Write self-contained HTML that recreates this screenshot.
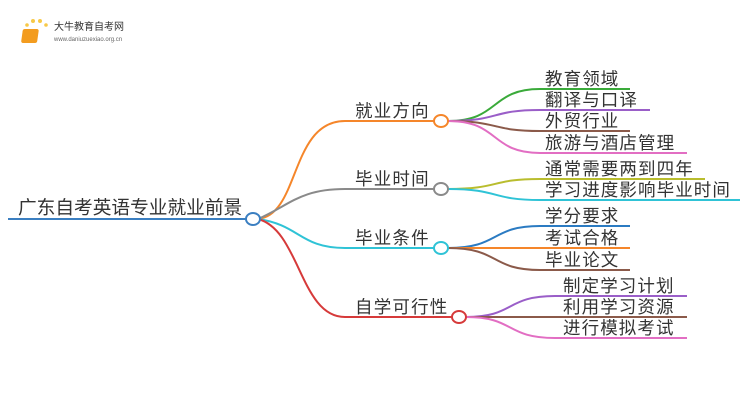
<!DOCTYPE html>
<html><head><meta charset="utf-8"><style>
html,body{margin:0;padding:0;background:#fff;width:750px;height:410px;overflow:hidden}
svg text{font-family:"Liberation Sans","Noto Sans CJK SC",sans-serif;fill:#333}
</style></head><body>
<svg width="750" height="410" viewBox="0 0 750 410" xmlns="http://www.w3.org/2000/svg">
<g fill="none" stroke-width="2">
<line x1="8" y1="219" x2="246" y2="219" stroke="#3b7fc1"/>
<path d="M258,219 C300,215 290,121 345,121 L434,121" stroke="#f5862a"/>
<path d="M258,219 C290,205 300,189 345,189 L434,189" stroke="#8a8a8a"/>
<path d="M258,219 C300,225 300,248 345,248 L434,248" stroke="#2fc3d6"/>
<path d="M258,219 C300,230 300,317 345,317 L452,317" stroke="#d63a3a"/>
<path d="M448,121 C500,121 490,89 540,89 L630,89" stroke="#3aaa3a"/>
<path d="M448,121 C500,121 490,110 540,110 L650,110" stroke="#9a5ec8"/>
<path d="M448,121 C500,121 490,131 540,131 L630,131" stroke="#8b5a4a"/>
<path d="M448,121 C500,121 490,153 540,153 L687,153" stroke="#e26ec3"/>
<path d="M448,189 C500,189 490,179 540,179 L705,179" stroke="#b9bd2e"/>
<path d="M448,189 C500,189 490,200 540,200 L740,200" stroke="#2fc3d6"/>
<path d="M448,248 C500,248 490,226 540,226 L630,226" stroke="#2b7bc2"/>
<path d="M448,248 C500,248 490,248 540,248 L630,248" stroke="#f5862a"/>
<path d="M448,248 C500,248 490,270 540,270 L630,270" stroke="#8b5a4a"/>
<path d="M466,317 C515,317 505,296 555,296 L687,296" stroke="#9a5ec8"/>
<path d="M466,317 C515,317 505,317 555,317 L687,317" stroke="#8b5a4a"/>
<path d="M466,317 C515,317 505,338 555,338 L687,338" stroke="#e26ec3"/>
</g>
<g fill="#fff" stroke-width="2">
<ellipse cx="253" cy="219" rx="7" ry="6" stroke="#3b7fc1"/>
<ellipse cx="441" cy="121" rx="7" ry="6" stroke="#f5862a"/>
<ellipse cx="441" cy="189" rx="7" ry="6" stroke="#8a8a8a"/>
<ellipse cx="441" cy="248" rx="7" ry="6" stroke="#2fc3d6"/>
<ellipse cx="459" cy="317" rx="7" ry="6" stroke="#d63a3a"/>
</g>
<text x="18" y="214" font-size="18.7">广东自考英语专业就业前景</text>
<g font-size="17.5" letter-spacing="1.2">
<text x="355" y="117">就业方向</text>
<text x="355" y="185">毕业时间</text>
<text x="355" y="244">毕业条件</text>
<text x="355" y="313">自学可行性</text>
</g>
<g font-size="17.5" letter-spacing="1.1">
<text x="545" y="85">教育领域</text>
<text x="545" y="106">翻译与口译</text>
<text x="545" y="127">外贸行业</text>
<text x="545" y="149">旅游与酒店管理</text>
<text x="545" y="175">通常需要两到四年</text>
<text x="545" y="196">学习进度影响毕业时间</text>
<text x="545" y="222">学分要求</text>
<text x="545" y="244">考试合格</text>
<text x="545" y="266">毕业论文</text>
<text x="563" y="292">制定学习计划</text>
<text x="563" y="313">利用学习资源</text>
<text x="563" y="334">进行模拟考试</text>
</g>
<g>
<circle cx="24" cy="32" r="1.5" fill="#f7c948"/><circle cx="27" cy="25" r="1.8" fill="#f7c948"/>
<circle cx="33" cy="21" r="2" fill="#f7c948"/><circle cx="40" cy="21" r="2" fill="#f7c948"/>
<circle cx="46" cy="25" r="1.8" fill="#f7c948"/><circle cx="23" cy="40" r="1.3" fill="#f7c948"/>
<rect x="27" y="29" width="16" height="14" rx="2" fill="#f39c1f" transform="skewX(-8)"/>
</g>
<text x="54" y="30" font-size="10" style="fill:#333">大牛教育自考网</text>
<text x="54" y="41" font-size="6" style="fill:#666">www.daniuzuexiao.org.cn</text>
</svg>
</body></html>
